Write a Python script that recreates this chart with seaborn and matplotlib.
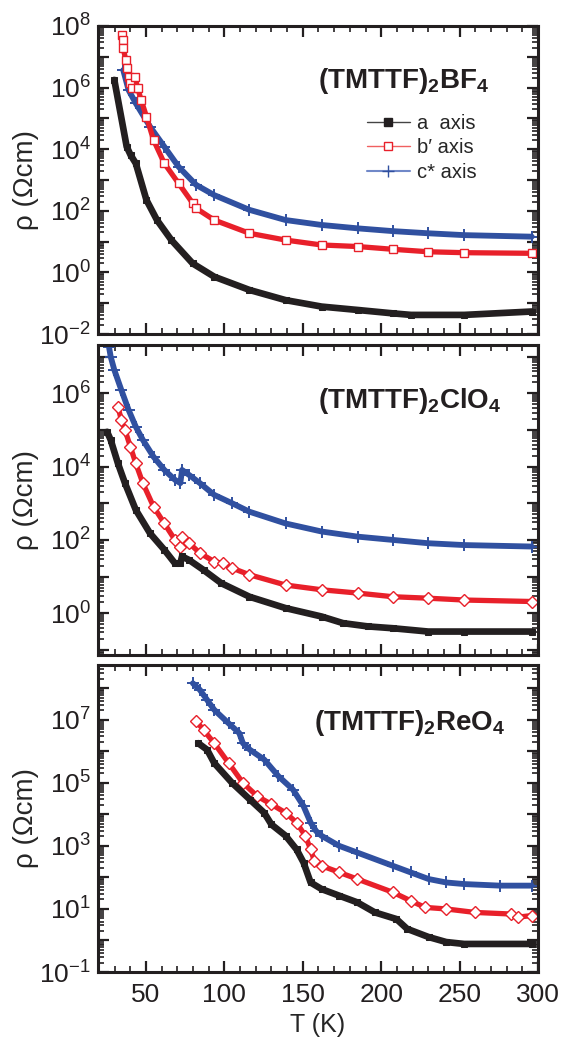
import numpy as np
import pandas as pd
import matplotlib
matplotlib.use("Agg")
import matplotlib.pyplot as plt
import seaborn as sns
from matplotlib.ticker import LogLocator, FuncFormatter, MultipleLocator, NullFormatter
from matplotlib.lines import Line2D

sns.set_style("ticks")
plt.rcParams["font.family"] = ["Liberation Sans", "DejaVu Sans"]
plt.rcParams["mathtext.default"] = "regular"

# ---------------- data (T in K, log10 of rho in Ohm cm) ----------------
# Panel 1: (TMTTF)2BF4
bf4_a_T = [29.8, 37.7, 40.2, 43.5, 50.3, 57, 66.2, 79.8, 93.5, 116, 139, 162, 185, 207.5, 219, 253, 296]
bf4_a_log = [6.25, 4.08, 3.81, 3.54, 2.35, 1.70, 1.05, 0.29, -0.14, -0.57, -0.90, -1.11, -1.22, -1.33, -1.38, -1.38, -1.27]
bf4_b_T = [34.4, 35.1, 35.5, 37.1, 37.8, 38.9, 40.0, 41.2, 43.0, 44.6, 46.9, 50.3, 54.8, 61.7, 70.8, 79.9, 82, 93.5, 116, 139, 162, 185, 207.5, 230, 253, 296]
bf4_b_log = [7.71, 7.55, 7.27, 6.90, 6.63, 6.35, 6.14, 5.98, 6.35, 6.00, 5.60, 5.06, 4.30, 3.54, 2.89, 2.24, 2.08, 1.70, 1.27, 1.05, 0.89, 0.84, 0.75, 0.67, 0.64, 0.62]
bf4_c_T = [35.5, 38.9, 43.5, 52.6, 61.7, 70.8, 82, 93.5, 116, 139, 162, 185, 207.5, 230, 253, 296]
bf4_c_log = [6.57, 5.92, 5.49, 4.73, 4.08, 3.43, 2.84, 2.51, 2.03, 1.70, 1.54, 1.43, 1.34, 1.27, 1.21, 1.16]

# Panel 2: (TMTTF)2ClO4
clo4_a_T = [25.2, 27.5, 32.1, 36.6, 43.5, 52.6, 61.7, 68.5, 71.9, 73, 77.6, 86.7, 98, 116, 139, 162, 175.6, 191.5, 207.5, 230, 253, 296]
clo4_a_log = [4.95, 4.73, 4.09, 3.55, 2.82, 2.18, 1.73, 1.36, 1.36, 1.55, 1.45, 1.18, 0.82, 0.45, 0.14, -0.09, -0.27, -0.36, -0.41, -0.50, -0.50, -0.50]
clo4_b_T = [32.1, 34.3, 36.6, 40, 43.5, 48, 54.8, 61.7, 68.5, 71.9, 73, 77.6, 84.4, 93.5, 99.2, 105, 116, 139, 162, 185, 207.5, 230, 253, 296]
clo4_b_log = [5.64, 5.27, 5.00, 4.55, 4.09, 3.55, 2.91, 2.45, 2.00, 1.82, 2.09, 1.91, 1.64, 1.41, 1.36, 1.23, 1.05, 0.77, 0.64, 0.55, 0.45, 0.41, 0.36, 0.32]
clo4_c_T = [26.4, 27.5, 29.8, 34.3, 38.9, 43.5, 48, 54.8, 61.7, 68.5, 71.9, 73, 77.6, 84.4, 93.5, 105, 116, 139, 162, 185, 207.5, 230, 253, 296]
clo4_c_log = [7.27, 7.00, 6.64, 6.09, 5.55, 5.09, 4.73, 4.27, 3.91, 3.64, 3.55, 3.91, 3.77, 3.55, 3.23, 3.00, 2.77, 2.45, 2.23, 2.09, 2.00, 1.91, 1.86, 1.82]

# Panel 3: (TMTTF)2ReO4
reo4_a_T = [83.3, 89, 93.5, 104.9, 116.3, 125.4, 130, 139.1, 146, 150.5, 155, 162, 173.3, 184.7, 196, 209.7, 216.5, 230.2, 241.5, 252.9, 296]
reo4_a_log = [6.26, 6.05, 5.63, 5.00, 4.47, 4.05, 3.68, 3.32, 2.89, 2.47, 1.84, 1.63, 1.42, 1.21, 0.89, 0.68, 0.37, 0.11, -0.05, -0.11, -0.11]
reo4_b_T = [82.2, 86.7, 93.5, 102.7, 111.8, 120.9, 130, 139.1, 146, 151.6, 155, 157.3, 162, 173.3, 184.7, 207.4, 218.8, 227.9, 241.5, 259.7, 282.5, 287, 296]
reo4_b_log = [6.95, 6.68, 6.26, 5.63, 5.00, 4.58, 4.32, 4.05, 3.74, 3.32, 2.89, 2.53, 2.37, 2.16, 1.95, 1.53, 1.26, 1.05, 1.00, 0.89, 0.84, 0.74, 0.79]
reo4_c_T = [79.9, 84.4, 89, 93.5, 102.7, 109.5, 111.8, 116.3, 125.4, 134.5, 143.7, 150.5, 155, 158.5, 162, 173.3, 184.7, 207.4, 218.8, 230.2, 241.5, 252.9, 275.7, 296]
reo4_c_log = [8.16, 7.95, 7.63, 7.32, 6.89, 6.58, 6.26, 6.05, 5.74, 5.21, 4.79, 4.26, 3.74, 3.47, 3.32, 3.00, 2.79, 2.37, 2.16, 1.95, 1.84, 1.79, 1.74, 1.74]

titles = [r"(TMTTF)$_2$BF$_4$", r"(TMTTF)$_2$ClO$_4$", r"(TMTTF)$_2$ReO$_4$"]
legend_labels = ["a  axis", "b\u2032 axis", "c* axis"]

BLACK = "#231f20"
RED = "#e8202a"
BLUE = "#3050a0"

panels = [
    dict(series=[(bf4_a_T, bf4_a_log), (bf4_b_T, bf4_b_log), (bf4_c_T, bf4_c_log)],
         ylim=(1e-2, 1e8), parity=0, redmark="s", title=titles[0], tpos=(0.50, 0.82)),
    dict(series=[(clo4_a_T, clo4_a_log), (clo4_b_T, clo4_b_log), (clo4_c_T, clo4_c_log)],
         ylim=(10 ** -1.14, 10 ** 7.32), parity=0, redmark="D", title=titles[1], tpos=(0.50, 0.82)),
    dict(series=[(reo4_a_T, reo4_a_log), (reo4_b_T, reo4_b_log), (reo4_c_T, reo4_c_log)],
         ylim=(1e-1, 10 ** 8.74), parity=1, redmark="D", title=titles[2], tpos=(0.49, 0.81)),
]

fig = plt.figure(figsize=(5.62, 10.4), dpi=100)
left, width = 98 / 562, 440 / 562
boxes = [(334, 308), (655, 310), (972, 307)]

for i, (p, (bot, h)) in enumerate(zip(panels, boxes)):
    ax = fig.add_axes([left, 1 - bot / 1040, width, h / 1040])
    (aT, alog), (bT, blog), (cT, clog) = p["series"]
    da = pd.DataFrame({"T": aT, "rho": np.power(10.0, alog)})
    db = pd.DataFrame({"T": bT, "rho": np.power(10.0, blog)})
    dc = pd.DataFrame({"T": cT, "rho": np.power(10.0, clog)})

    sns.lineplot(data=dc, x="T", y="rho", ax=ax, color=BLUE, lw=4.2, marker="+", ms=8, mew=1.4,
                 mec=BLUE, estimator=None, sort=False, legend=False)
    sns.lineplot(data=db, x="T", y="rho", ax=ax, color=RED, lw=3.8, marker=p["redmark"], ms=6,
                 mfc="white", mec=RED, mew=1.0, estimator=None, sort=False, legend=False)
    sns.lineplot(data=da, x="T", y="rho", ax=ax, color=BLACK, lw=4.8, marker="s", ms=5,
                 mfc=BLACK, mec=BLACK, estimator=None, sort=False, legend=False)

    ax.set_yscale("log")
    ax.set_xlim(19.4, 300)
    ax.set_ylim(*p["ylim"])
    ax.xaxis.set_major_locator(MultipleLocator(50))
    ax.xaxis.set_minor_locator(MultipleLocator(10))
    ax.yaxis.set_major_locator(LogLocator(base=10, numticks=40))
    ax.yaxis.set_minor_locator(LogLocator(base=10, subs=np.arange(2, 10), numticks=200))
    par = p["parity"]

    def fmt(v, pos, par=par):
        e = int(round(np.log10(v)))
        return f"$10^{{{e}}}$" if e % 2 == par else ""

    ax.yaxis.set_major_formatter(FuncFormatter(fmt))
    ax.yaxis.set_minor_formatter(NullFormatter())
    ax.tick_params(which="both", direction="in", top=True, right=True, colors=BLACK)
    ax.tick_params(which="major", length=8, width=1.6, labelsize=19, pad=5)
    ax.tick_params(axis="x", which="major", pad=8)
    ax.tick_params(which="minor", length=4, width=1.2)
    for s in ax.spines.values():
        s.set_linewidth(2.2)
        s.set_color(BLACK)
    ax.set_ylabel("ρ (Ωcm)", fontsize=20)
    ax.yaxis.set_label_coords(-0.135, 0.5)
    if i < 2:
        ax.tick_params(labelbottom=False)
        ax.set_xlabel("")
    else:
        ax.set_xlabel("T (K)", fontsize=18, labelpad=4)

    ax.text(p["tpos"][0], p["tpos"][1], p["title"], transform=ax.transAxes, fontsize=20,
            fontweight="bold", ha="left", va="center", color=BLACK)

    if i == 0:
        handles = [
            Line2D([], [], color="#444444", lw=1.0, marker="s", ms=6, mfc=BLACK, mec=BLACK),
            Line2D([], [], color="#f06060", lw=1.0, marker="s", ms=6, mfc="white", mec=RED, mew=1.0),
            Line2D([], [], color="#7088c8", lw=1.5, marker="+", ms=8, mec=BLUE, mew=1.0),
        ]
        ax.legend(handles, legend_labels, loc="upper left", bbox_to_anchor=(0.611, 0.715),
                  frameon=False, fontsize=14.5, handlelength=2.15, handletextpad=0.35,
                  labelspacing=0.28, borderaxespad=0.0, borderpad=0.0)

fig.savefig("out.png", dpi=100)
